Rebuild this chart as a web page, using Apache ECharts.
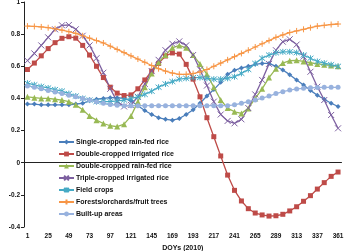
<!DOCTYPE html>
<html><head><meta charset="utf-8">
<script src="https://cdn.jsdelivr.net/npm/echarts@6/dist/echarts.min.js"></script>
<style>html,body{margin:0;padding:0;background:#fff}#c{width:344px;height:251px}</style>
</head><body><div id="c"></div>
<script>
const doys = [1,9,17,25,33,41,49,57,65,73,81,89,97,105,113,121,129,137,145,153,161,169,177,185,193,201,209,217,225,233,241,249,257,265,273,281,289,297,305,313,321,329,337,345,353,361];
const singleRainfed = [0.365,0.365,0.36,0.36,0.36,0.36,0.36,0.365,0.37,0.385,0.395,0.40,0.405,0.405,0.40,0.385,0.355,0.325,0.30,0.28,0.27,0.265,0.275,0.30,0.33,0.37,0.415,0.455,0.50,0.55,0.575,0.59,0.60,0.612,0.618,0.618,0.60,0.577,0.548,0.515,0.484,0.45,0.42,0.395,0.37,0.35];
const doubleIrrigated = [0.58,0.62,0.665,0.71,0.747,0.774,0.784,0.775,0.73,0.67,0.60,0.53,0.47,0.433,0.418,0.422,0.46,0.515,0.57,0.618,0.664,0.683,0.676,0.612,0.52,0.41,0.28,0.162,0.042,-0.077,-0.172,-0.238,-0.286,-0.313,-0.325,-0.332,-0.33,-0.321,-0.30,-0.274,-0.24,-0.205,-0.164,-0.124,-0.085,-0.058];
const doubleRainfed = [0.41,0.405,0.40,0.40,0.395,0.39,0.38,0.36,0.33,0.29,0.265,0.244,0.23,0.225,0.24,0.29,0.38,0.47,0.555,0.625,0.67,0.715,0.73,0.715,0.67,0.615,0.55,0.47,0.39,0.34,0.317,0.307,0.338,0.40,0.46,0.53,0.585,0.62,0.635,0.637,0.63,0.622,0.615,0.61,0.605,0.60];
const tripleIrrigated = [0.635,0.68,0.73,0.78,0.83,0.855,0.857,0.83,0.79,0.73,0.65,0.56,0.46,0.38,0.35,0.36,0.41,0.49,0.57,0.64,0.70,0.74,0.755,0.73,0.67,0.58,0.48,0.38,0.30,0.26,0.245,0.27,0.34,0.425,0.515,0.615,0.70,0.753,0.768,0.735,0.66,0.566,0.473,0.39,0.297,0.214];
const fieldCrops = [0.495,0.485,0.474,0.465,0.455,0.446,0.43,0.415,0.40,0.39,0.38,0.38,0.38,0.385,0.39,0.40,0.41,0.425,0.445,0.47,0.49,0.505,0.52,0.525,0.53,0.53,0.525,0.52,0.52,0.525,0.535,0.556,0.58,0.618,0.65,0.67,0.684,0.69,0.69,0.685,0.67,0.65,0.63,0.62,0.61,0.60];
const forests = [0.85,0.848,0.845,0.84,0.833,0.825,0.815,0.805,0.79,0.775,0.76,0.745,0.725,0.705,0.685,0.665,0.645,0.625,0.605,0.585,0.57,0.558,0.55,0.55,0.555,0.565,0.58,0.60,0.62,0.64,0.66,0.68,0.70,0.72,0.74,0.76,0.78,0.795,0.81,0.82,0.83,0.84,0.85,0.855,0.86,0.863];
const builtUp = [0.478,0.47,0.46,0.45,0.44,0.43,0.42,0.41,0.40,0.39,0.38,0.37,0.362,0.357,0.355,0.355,0.355,0.355,0.355,0.355,0.355,0.355,0.355,0.355,0.355,0.355,0.355,0.355,0.355,0.355,0.36,0.37,0.38,0.39,0.402,0.415,0.43,0.442,0.452,0.459,0.463,0.466,0.468,0.469,0.469,0.469];
const seriesNames = ['Single-cropped rain-fed rice','Double-cropped irrigated rice','Double-cropped rain-fed rice','Triple-cropped irrigated rice','Field crops','Forests/orchards/fruit trees','Built-up areas'];
const yTicks = {min:-0.4, max:1, interval:0.2};

const colors = ['#4A7EBB','#BE4B48','#98B954','#7D60A0','#46AAC5','#F79646','#98B2DE'];
const X = 'path://M0,0L10,10M10,0L0,10';
const PLUS = 'path://M0,5L10,5M5,0L5,10';
const STAR = 'path://M0,0L10,10M10,0L0,10M5,-1L5,11';
const symbols = ['diamond','rect','triangle',X,STAR,PLUS,'circle'];
const sizes = [5,5,6,6,6,6,5];
const datas = [singleRainfed,doubleIrrigated,doubleRainfed,tripleIrrigated,fieldCrops,forests,builtUp];

const font = {fontFamily:'Liberation Sans', fontWeight:'bold', fontSize:6.5, color:'#111'};
const chart = echarts.init(document.getElementById('c'), null, {renderer:'canvas'});
chart.setOption({
  animation:false,
  textStyle:{fontFamily:'Liberation Sans'},
  grid:{left:24, right:2.5, top:2, bottom:24, containLabel:false, outerBoundsMode:'none'},
  legend:{orient:'vertical', left:58, top:138, padding:0, itemWidth:15, itemHeight:6, itemGap:4,
    textStyle:Object.assign({}, font, {fontSize:7, lineHeight:8, padding:[0,0,0,-3]}),
    data:seriesNames},
  xAxis:{type:'category', data:doys.map(String), boundaryGap:true,
    name:'DOYs (2010)', nameLocation:'middle', nameGap:17, nameTextStyle:Object.assign({}, font, {fontSize:7}),
    axisLine:{lineStyle:{color:'#222', width:1}},
    axisTick:{interval:0, length:3, lineStyle:{color:'#222'}},
    axisLabel:Object.assign({interval:2, margin:6, hideOverlap:false}, font)},
  yAxis:{type:'value', min:yTicks.min, max:yTicks.max, interval:yTicks.interval,
    name:'NDVI', nameLocation:'middle', nameGap:19, nameTextStyle:font,
    splitLine:{show:false},
    axisLine:{show:true, lineStyle:{color:'#222', width:1}},
    axisTick:{show:true, length:3, lineStyle:{color:'#222'}},
    axisLabel:Object.assign({margin:4}, font)},
  series: seriesNames.map((n,i)=>({
    name:n, type:'line', data:datas[i], symbol:symbols[i], symbolSize:sizes[i],
    showSymbol:true, showAllSymbol:true,
    lineStyle:{color:colors[i], width:1.3},
    itemStyle:{color:colors[i], borderColor:colors[i], borderWidth: (i===3||i===4||i===5)?1:0}
  }))
});
</script></body></html>
